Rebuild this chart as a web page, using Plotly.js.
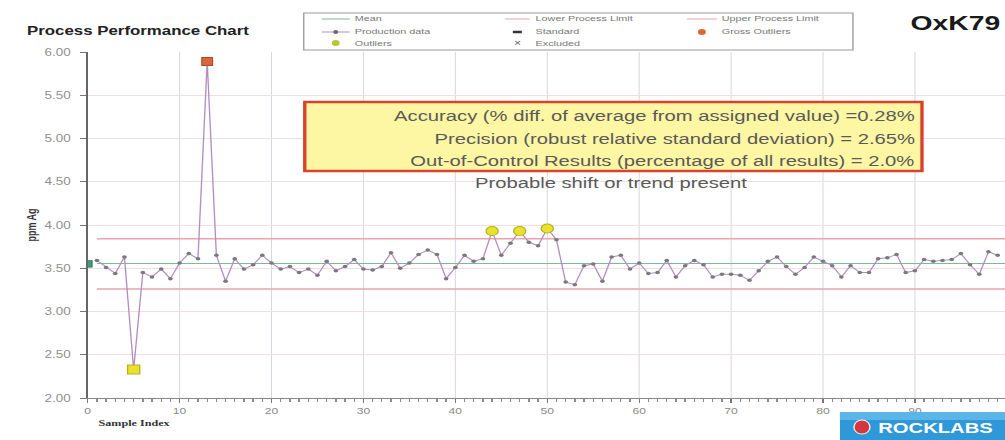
<!DOCTYPE html>
<html>
<head>
<meta charset="utf-8">
<script src="https://cdn.plot.ly/plotly-3.0.1.min.js"></script>
<style>
  html, body { margin: 0; padding: 0; background: #ffffff; }
  #wrap { width: 1005px; height: 440px; overflow: hidden; }
  #chart { width: 745px; height: 440px; transform: scaleX(1.349); transform-origin: 0 0; }
</style>
</head>
<body>
<div id="wrap"><div id="chart"></div></div>
<script>
// ---------------- data ----------------
const sampleIndex = [1,2,3,4,5,6,7,8,9,10,11,12,13,14,15,16,17,18,19,20,
  21,22,23,24,25,26,27,28,29,30,31,32,33,34,35,36,37,38,39,40,
  41,42,43,44,45,46,47,48,49,50,51,52,53,54,55,56,57,58,59,60,
  61,62,63,64,65,66,67,68,69,70,71,72,73,74,75,76,77,78,79,80,
  81,82,83,84,85,86,87,88,89,90,91,92,93,94,95,96,97,98,99];
const ppmAg = [3.59,3.51,3.44,3.63,2.33,3.45,3.40,3.49,3.38,3.56,
  3.67,3.61,5.89,3.65,3.35,3.61,3.49,3.54,3.65,3.56,
  3.49,3.52,3.45,3.49,3.42,3.58,3.47,3.52,3.60,3.49,
  3.48,3.52,3.68,3.50,3.56,3.66,3.71,3.66,3.38,3.51,
  3.65,3.58,3.61,3.93,3.65,3.79,3.93,3.80,3.76,3.96,
  3.83,3.34,3.31,3.53,3.55,3.35,3.63,3.65,3.49,3.56,
  3.44,3.45,3.59,3.40,3.53,3.59,3.54,3.40,3.43,3.43,
  3.42,3.36,3.47,3.58,3.63,3.52,3.43,3.51,3.63,3.58,
  3.53,3.40,3.53,3.45,3.45,3.61,3.62,3.66,3.45,3.47,
  3.60,3.58,3.59,3.60,3.67,3.54,3.43,3.69,3.65];
const outlierIndex = [5, 44, 47, 50];
const outlierValue = [2.33, 3.93, 3.93, 3.96];
const grossOutlierIndex = [13];
const grossOutlierValue = [5.89];
const standardIndex = [0];
const standardValue = [3.55];
const meanValue = 3.555;
const lowerProcessLimit = 3.26;
const upperProcessLimit = 3.84;
const limitSpan = [sampleIndex[0], sampleIndex[sampleIndex.length - 1] + 1];
const yTickValues = [2.0, 2.5, 3.0, 3.5, 4.0, 4.5, 5.0, 5.5, 6.0];
const xTickValues = [0, 10, 20, 30, 40, 50, 60, 70, 80, 90];
const statLines = [
  'Accuracy (% diff. of average from assigned value) =0.28%',
  'Precision (robust relative standard deviation) = 2.65%',
  'Out-of-Control Results (percentage of all results) = 2.0%'
];
const statNote = 'Probable shift or trend present';

// ---------------- helpers (reference pixel -> paper) ----------------
const PX = px => (px - 88) / 917;
const PY = py => (398 - py) / 346;
const FONT = 'Liberation Sans, Arial, sans-serif';

// ---------------- traces ----------------
const traces = [
  { x: limitSpan, y: [lowerProcessLimit, lowerProcessLimit], mode: 'lines', name: 'Lower Process Limit',
    line: { color: '#e9a3ad', width: 1.5 }, showlegend: false },
  { x: limitSpan, y: [upperProcessLimit, upperProcessLimit], mode: 'lines', name: 'Upper Process Limit',
    line: { color: '#e9a3ad', width: 1.5 }, showlegend: false },
  { x: limitSpan, y: [meanValue, meanValue], mode: 'lines', name: 'Mean',
    line: { color: '#7fb896', width: 1 }, showlegend: false },
  { x: sampleIndex, y: ppmAg, mode: 'lines+markers', name: 'Production data',
    line: { color: '#b58cc2', width: 1 },
    marker: { color: '#7a7a7a', size: 3.5 }, showlegend: false },
  { x: standardIndex, y: standardValue, mode: 'markers', name: 'Standard',
    marker: { color: '#3f9b74', size: 6.5, symbol: 'square', line: { color: '#2c7454', width: 0.8 } }, showlegend: false },
  { x: outlierIndex, y: outlierValue, mode: 'markers', name: 'Outliers',
    marker: { color: '#e8e22e', size: 9, symbol: ['square', 'circle', 'circle', 'circle'],
              line: { color: '#b9b021', width: 1 } }, showlegend: false },
  { x: grossOutlierIndex, y: grossOutlierValue, mode: 'markers', name: 'Gross Outliers',
    marker: { color: '#d9673a', size: 8, symbol: 'square', line: { color: '#a8482a', width: 0.8 } }, showlegend: false }
];

// ---------------- legend (drawn) ----------------
const rowY = [PY(19), PY(32), PY(43)];
const shapes = [
  { type: 'rect', xref: 'paper', yref: 'paper', x0: PX(304), x1: PX(853), y0: PY(50), y1: PY(13),
    fillcolor: '#ffffff', line: { color: '#9a9a9a', width: 1 } },
  { type: 'line', xref: 'paper', yref: 'paper', x0: PX(322), x1: PX(350), y0: rowY[0], y1: rowY[0], line: { color: '#7fb896', width: 1 } },
  { type: 'line', xref: 'paper', yref: 'paper', x0: PX(505), x1: PX(530), y0: rowY[0], y1: rowY[0], line: { color: '#e9a3ad', width: 1 } },
  { type: 'line', xref: 'paper', yref: 'paper', x0: PX(687), x1: PX(717), y0: rowY[0], y1: rowY[0], line: { color: '#e9a3ad', width: 1 } },
  { type: 'line', xref: 'paper', yref: 'paper', x0: PX(322), x1: PX(350), y0: rowY[1], y1: rowY[1], line: { color: '#b58cc2', width: 1 } },
  { type: 'circle', xref: 'paper', yref: 'paper', x0: PX(333.5), x1: PX(338.5), y0: rowY[1] - 2 / 346, y1: rowY[1] + 2 / 346,
    fillcolor: '#6a6a6a', line: { width: 0 } },
  { type: 'line', xref: 'paper', yref: 'paper', x0: PX(513), x1: PX(522), y0: rowY[1], y1: rowY[1], line: { color: '#333333', width: 2.5 } },
  { type: 'circle', xref: 'paper', yref: 'paper', x0: PX(698), x1: PX(706), y0: rowY[1] - 3 / 346, y1: rowY[1] + 3 / 346,
    fillcolor: '#d9673a', line: { width: 0 } },
  { type: 'circle', xref: 'paper', yref: 'paper', x0: PX(332), x1: PX(340), y0: rowY[2] - 3 / 346, y1: rowY[2] + 3 / 346,
    fillcolor: '#b9c832', line: { width: 0 } },
  // statistics box
  { type: 'rect', xref: 'paper', yref: 'paper', x0: PX(305), x1: PX(922), y0: PY(171), y1: PY(102),
    fillcolor: '#fdf6a3', line: { color: '#d8432e', width: 2.5 } },
  // logo
  { type: 'rect', xref: 'paper', yref: 'paper', x0: PX(840), x1: PX(1006), y0: PY(441), y1: PY(412),
    fillcolor: '#2f98d8', line: { width: 0 } },
  { type: 'rect', xref: 'paper', yref: 'paper', x0: PX(840), x1: PX(1006), y0: PY(420), y1: PY(412),
    fillcolor: '#5cb5e8', line: { width: 0 } },
  { type: 'circle', xref: 'paper', yref: 'paper', x0: PX(854), x1: PX(870), y0: PY(434), y1: PY(420),
    fillcolor: '#d4373f', line: { color: '#f0f0f0', width: 1 } }
];

const legendFont = { family: FONT, size: 8, color: '#777777' };
const legText = (t, px, row) => ({ text: t, xref: 'paper', yref: 'paper', x: PX(px), y: rowY[row],
  xanchor: 'left', yanchor: 'middle', showarrow: false, font: legendFont });

const statFont = { family: FONT, size: 15, color: '#5a5a5a' };
const annotations = [
  legText('Mean', 352, 0), legText('Lower Process Limit', 533, 0), legText('Upper Process Limit', 719, 0),
  legText('Production data', 352, 1), legText('Standard', 533, 1), legText('Gross Outliers', 719, 1),
  legText('Outliers', 352, 2), legText('Excluded', 533, 2),
  { text: '×', xref: 'paper', yref: 'paper', x: PX(517), y: rowY[2], xanchor: 'center', yanchor: 'middle',
    showarrow: false, font: { family: FONT, size: 9, color: '#555555' } },
  { text: statLines[0], xref: 'paper', yref: 'paper', x: PX(917), y: PY(115), xanchor: 'right', yanchor: 'middle', showarrow: false, font: statFont },
  { text: statLines[1], xref: 'paper', yref: 'paper', x: PX(917), y: PY(138), xanchor: 'right', yanchor: 'middle', showarrow: false, font: statFont },
  { text: statLines[2], xref: 'paper', yref: 'paper', x: PX(917), y: PY(160), xanchor: 'right', yanchor: 'middle', showarrow: false, font: statFont },
  { text: statNote, xref: 'paper', yref: 'paper', x: PX(612), y: PY(182), xanchor: 'center', yanchor: 'middle', showarrow: false, font: statFont },
  { text: '<b>OxK79</b>', xref: 'paper', yref: 'paper', x: PX(1003), y: PY(22), xanchor: 'right', yanchor: 'middle', showarrow: false,
    font: { family: FONT, size: 21, color: '#1a1a1a' } },
  { text: '<b>Sample Index</b>', xref: 'paper', yref: 'paper', x: PX(96), y: PY(423), xanchor: 'left', yanchor: 'middle', showarrow: false,
    font: { family: 'Liberation Serif, Times New Roman, serif', size: 9, color: '#333333' } },
  { text: '<b>ROCKLABS</b>', xref: 'paper', yref: 'paper', x: PX(876), y: PY(427), xanchor: 'left', yanchor: 'middle', showarrow: false,
    font: { family: FONT, size: 15, color: '#ffffff' } }
];

const layout = {
  width: 745, height: 440,
  margin: { l: 65.2, r: 0, t: 52, b: 42 },
  paper_bgcolor: '#ffffff', plot_bgcolor: '#ffffff',
  showlegend: false,
  title: { text: '<b>Process Performance Chart</b>', xref: 'container', yref: 'container',
    x: 27 / 1005, xanchor: 'left', y: 1 - 31 / 440, yanchor: 'middle',
    font: { family: FONT, size: 12.5, color: '#222222' } },
  xaxis: {
    range: [0, 99.8], tickvals: xTickValues, ticktext: xTickValues.map(String),
    showgrid: true, gridcolor: '#d6d7df', gridwidth: 0.75, zeroline: false,
    showline: true, linecolor: '#8a8a8a', linewidth: 1,
    ticks: 'outside', ticklen: 4, tickcolor: '#777777',
    minor: { dtick: 1, ticks: 'outside', ticklen: 2.5, tickcolor: '#8a8a8a', showgrid: false },
    tickfont: { family: FONT, size: 9, color: '#8a8a8a' }
  },
  yaxis: {
    range: [2, 6], tickvals: yTickValues, ticktext: yTickValues.map(v => v.toFixed(2)),
    showgrid: true, gridcolor: '#f3dde1', gridwidth: 1, zeroline: false,
    showline: true, linecolor: '#666666', linewidth: 1.5,
    ticks: 'outside', ticklen: 4, tickcolor: '#777777', ticklabelstandoff: 5,
    tickfont: { family: FONT, size: 10, color: '#909090' },
    title: { text: '<b>ppm Ag</b>', standoff: 4, font: { family: FONT, size: 9, color: '#333333' } }
  },
  shapes: shapes,
  annotations: annotations
};

Plotly.newPlot('chart', traces, layout, { staticPlot: true, displayModeBar: false });
</script>
</body>
</html>
